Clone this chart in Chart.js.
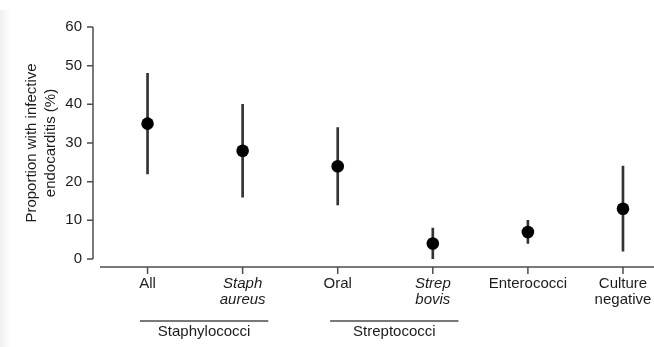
<!DOCTYPE html>
<html>
<head>
<meta charset="utf-8">
<script src="https://cdn.jsdelivr.net/npm/chart.js@4/dist/chart.umd.min.js"></script>
<style>
  html, body { margin: 0; padding: 0; background: #fff; }
  #wrap { position: relative; width: 654px; height: 347px; }
  #edge { position: absolute; left: 0; top: 10px; width: 11px; height: 337px;
          background: linear-gradient(to right, #efefef, #fbfbfb 70%, #fff); }
  #c { position: absolute; left: 0; top: 0; }
</style>
</head>
<body>
<div id="wrap"><div id="edge"></div><canvas id="c" width="654" height="347"></canvas></div>
<script>
// Organism groups and the proportion (%) with infective endocarditis, with 95% CI
const categories = [['All'], ['Staph', 'aureus'], ['Oral'], ['Strep', 'bovis'], ['Enterococci'], ['Culture', 'negative']];
const italicLabels = [false, true, false, true, false, false];
const estimates = [35, 28, 24, 4, 7, 13];
const lowerCI = [22, 16, 14, 0, 4, 2];
const upperCI = [48, 40, 34, 8, 10, 24];
const yTicks = [0, 10, 20, 30, 40, 50, 60];
const groupLabels = ['Staphylococci', 'Streptococci'];
const groupFirst = [0, 2];
const groupLast = [1, 3];

const FONT = '"Liberation Sans", Arial, Helvetica, sans-serif';
const TEXT = '#1c1c1c';
const AXIS = '#4d4d4d';

// Detached axis lines, tick marks and the group brackets under the categories
const axesPlugin = {
  id: 'detachedAxes',
  beforeDatasetsDraw(chart) {
    const { ctx, chartArea: a, scales: { x, y } } = chart;
    ctx.save();
    ctx.strokeStyle = AXIS;
    ctx.lineWidth = 1.5;
    ctx.beginPath();
    const ax = a.left - 7;
    ctx.moveTo(ax, y.getPixelForValue(yTicks[yTicks.length - 1]));
    ctx.lineTo(ax, y.getPixelForValue(yTicks[0]));
    yTicks.forEach(v => {
      const py = y.getPixelForValue(v);
      ctx.moveTo(ax - 6, py);
      ctx.lineTo(ax, py);
    });
    const by = a.bottom + 8;
    ctx.moveTo(a.left, by);
    ctx.lineTo(chart.width, by);
    categories.forEach((c, i) => {
      const px = x.getPixelForValue(i);
      ctx.moveTo(px, by);
      ctx.lineTo(px, by + 7);
    });
    ctx.stroke();

    ctx.lineWidth = 1.3;
    ctx.fillStyle = TEXT;
    ctx.font = '15px ' + FONT;
    ctx.textAlign = 'center';
    ctx.textBaseline = 'middle';
    groupLabels.forEach((g, k) => {
      const x0 = x.getPixelForValue(groupFirst[k] - 0.08);
      const x1 = x.getPixelForValue(groupLast[k] + 0.27);
      const ly = a.bottom + 62;
      ctx.beginPath();
      ctx.moveTo(x0, ly);
      ctx.lineTo(x1, ly);
      ctx.stroke();
      ctx.fillText(g, (x0 + x1) / 2, ly + 11);
    });
    ctx.restore();
  }
};

new Chart(document.getElementById('c'), {
  type: 'scatter',
  data: {
    datasets: [
      {
        type: 'scatter',
        data: estimates.map((v, i) => ({ x: i, y: v })),
        backgroundColor: '#000',
        borderWidth: 0,
        pointRadius: 6.3
      },
      {
        type: 'bar',
        data: estimates.map((v, i) => ({ x: i, y: [lowerCI[i], upperCI[i]] })),
        backgroundColor: '#333',
        borderWidth: 0,
        barThickness: 2
      }
    ]
  },
  options: {
    responsive: false,
    animation: false,
    devicePixelRatio: 1,
    layout: { padding: { top: 27, left: 0, right: 0, bottom: 0 } },
    plugins: { legend: { display: false }, tooltip: { enabled: false } },
    scales: {
      x: {
        type: 'linear',
        offset: false,
        min: -0.5,
        max: 5.26,
        grid: { display: false, drawTicks: false, offset: false },
        border: { display: false },
        afterFit: s => { s.height = 88; s.paddingLeft = 0; s.paddingRight = 0; },
        afterBuildTicks: s => { s.ticks = categories.map((c, i) => ({ value: i })); },
        ticks: {
          autoSkip: false,
          maxRotation: 0,
          padding: 17,
          color: TEXT,
          callback: v => categories[v],
          font: ctx => ({
            family: FONT,
            size: 15,
            lineHeight: '16px',
            style: ctx.tick && italicLabels[ctx.tick.value] ? 'italic' : 'normal'
          })
        }
      },
      y: {
        min: 0,
        max: 60,
        grid: { display: false, drawTicks: false },
        border: { display: false },
        afterFit: s => { s.width = 100; },
        afterBuildTicks: s => { s.ticks = yTicks.map(v => ({ value: v })); },
        ticks: {
          padding: 18,
          color: TEXT,
          font: { family: FONT, size: 15 }
        },
        title: {
          display: true,
          text: ['Proportion with infective', 'endocarditis (%)'],
          color: TEXT,
          font: { family: FONT, size: 15, lineHeight: 1.3 },
          padding: { top: 22, bottom: 0 }
        }
      }
    }
  },
  plugins: [axesPlugin]
});
</script>
</body>
</html>
